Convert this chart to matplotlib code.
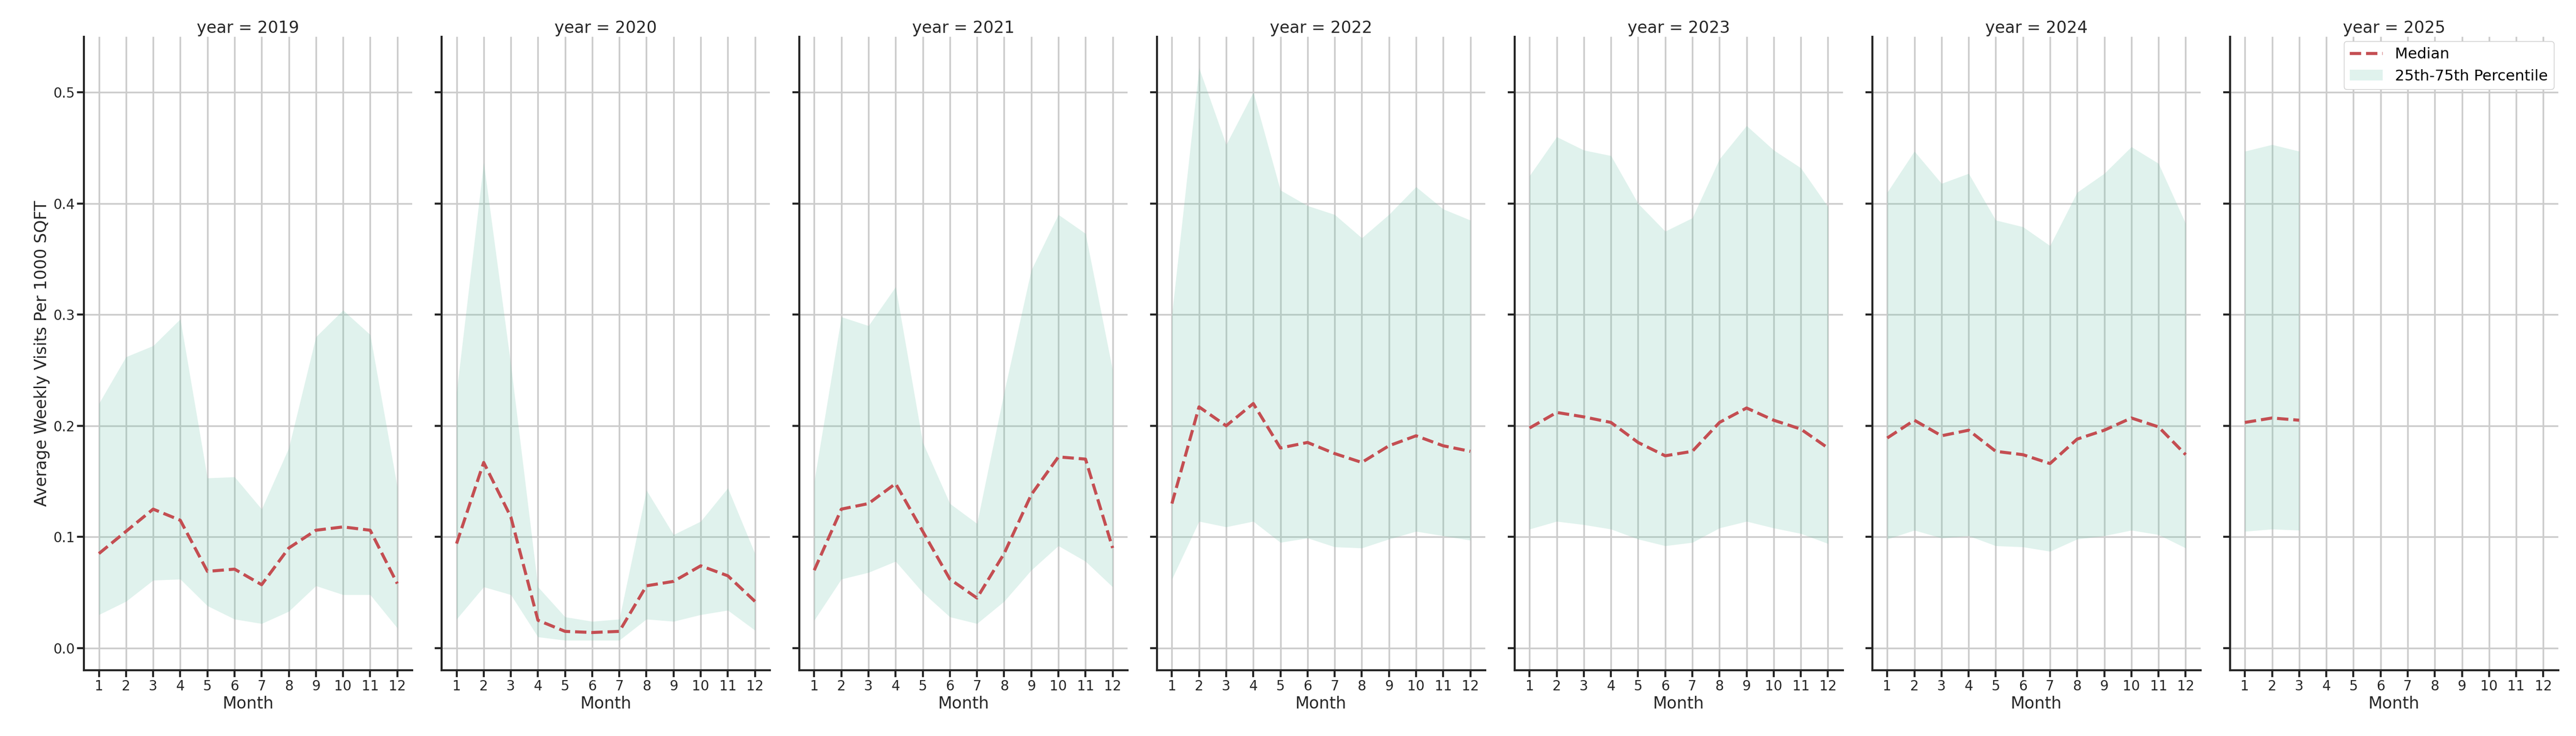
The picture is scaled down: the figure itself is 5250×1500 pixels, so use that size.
import matplotlib
matplotlib.use("Agg")
import matplotlib.pyplot as plt

months = list(range(1, 13))
years = [2019, 2020, 2021, 2022, 2023, 2024, 2025]

median = {
    2019: [0.085, 0.105, 0.125, 0.115, 0.069, 0.071, 0.057, 0.090, 0.106, 0.109, 0.106, 0.058],
    2020: [0.094, 0.167, 0.118, 0.025, 0.015, 0.014, 0.015, 0.056, 0.060, 0.074, 0.065, 0.042],
    2021: [0.070, 0.125, 0.130, 0.148, 0.105, 0.062, 0.045, 0.085, 0.138, 0.172, 0.170, 0.090],
    2022: [0.130, 0.217, 0.200, 0.220, 0.180, 0.185, 0.175, 0.167, 0.182, 0.191, 0.182, 0.177],
    2023: [0.198, 0.212, 0.208, 0.203, 0.185, 0.173, 0.177, 0.203, 0.216, 0.205, 0.197, 0.180],
    2024: [0.189, 0.205, 0.191, 0.196, 0.177, 0.174, 0.166, 0.188, 0.196, 0.207, 0.199, 0.174],
    2025: [0.203, 0.207, 0.205],
}
upper = {
    2019: [0.220, 0.262, 0.272, 0.296, 0.153, 0.154, 0.125, 0.180, 0.280, 0.304, 0.282, 0.145],
    2020: [0.230, 0.437, 0.255, 0.055, 0.028, 0.024, 0.026, 0.142, 0.102, 0.114, 0.144, 0.085],
    2021: [0.150, 0.298, 0.290, 0.325, 0.185, 0.130, 0.112, 0.230, 0.340, 0.390, 0.373, 0.250],
    2022: [0.300, 0.522, 0.453, 0.500, 0.412, 0.398, 0.390, 0.369, 0.390, 0.415, 0.395, 0.385],
    2023: [0.425, 0.460, 0.448, 0.443, 0.400, 0.375, 0.387, 0.440, 0.470, 0.448, 0.432, 0.397],
    2024: [0.410, 0.447, 0.418, 0.427, 0.385, 0.379, 0.362, 0.410, 0.427, 0.451, 0.436, 0.382],
    2025: [0.447, 0.453, 0.447],
}
lower = {
    2019: [0.030, 0.042, 0.061, 0.062, 0.038, 0.026, 0.022, 0.033, 0.056, 0.048, 0.048, 0.018],
    2020: [0.026, 0.055, 0.048, 0.010, 0.007, 0.007, 0.007, 0.026, 0.024, 0.030, 0.034, 0.016],
    2021: [0.025, 0.062, 0.068, 0.078, 0.050, 0.028, 0.022, 0.042, 0.070, 0.092, 0.078, 0.055],
    2022: [0.062, 0.114, 0.109, 0.114, 0.095, 0.099, 0.091, 0.090, 0.098, 0.105, 0.101, 0.097],
    2023: [0.107, 0.114, 0.111, 0.107, 0.098, 0.092, 0.095, 0.108, 0.114, 0.108, 0.103, 0.094],
    2024: [0.098, 0.106, 0.099, 0.101, 0.092, 0.091, 0.087, 0.098, 0.101, 0.106, 0.102, 0.090],
    2025: [0.105, 0.107, 0.106],
}

plt.rcParams['font.family'] = 'DejaVu Sans'
fig, axes = plt.subplots(1, 7, figsize=(52.5, 15), dpi=100, sharey=True)
fig.subplots_adjust(left=0.0326, right=0.9931, bottom=0.0893, top=0.95, wspace=0.0897)

for ax, yr in zip(axes, years):
    x = months[:len(median[yr])]
    ax.fill_between(x, lower[yr], upper[yr], color='#66c2a5', alpha=0.2,
                    linewidth=0, label='25th-75th Percentile')
    ax.plot(x, median[yr], color='#c44e52', linestyle='--', linewidth=4.5, label='Median')
    ax.set_xlim(0.45, 12.55)
    ax.set_ylim(-0.02, 0.55)
    ax.set_xticks(months)
    ax.set_yticks([0.0, 0.1, 0.2, 0.3, 0.4, 0.5])
    ax.grid(True, color='#cccccc', linewidth=2.5)
    ax.set_axisbelow(True)
    for s in ['top', 'right']:
        ax.spines[s].set_visible(False)
    for s in ['left', 'bottom']:
        ax.spines[s].set_linewidth(3)
        ax.spines[s].set_color('#262626')
    ax.tick_params(labelsize=20, width=3, length=10, colors='#262626')
    ax.set_xlabel('Month', fontsize=24, color='#262626')
    ax.set_title(f'year = {yr}', fontsize=24, color='#262626')

axes[0].set_ylabel('Average Weekly Visits Per 1000 SQFT', fontsize=24, color='#262626')
h, l = axes[-1].get_legend_handles_labels()
axes[-1].legend(h[::-1], l[::-1], loc='upper right', fontsize=22, framealpha=1,
                edgecolor='#cccccc', borderaxespad=0.3, handlelength=2.2)

fig.savefig('out.png', dpi=100)
